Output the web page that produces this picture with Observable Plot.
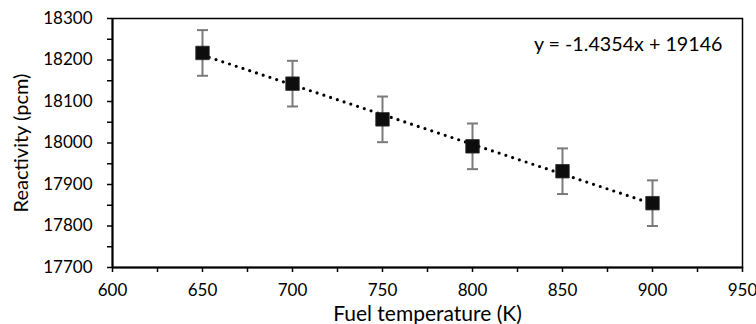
<!DOCTYPE html>
<html><head><meta charset="utf-8">
<script src="https://cdn.jsdelivr.net/npm/d3@7"></script>
<script src="https://cdn.jsdelivr.net/npm/@observablehq/plot@0.6"></script>
<style>
html,body{margin:0;padding:0;background:#fff;}
</style>
</head><body><div id="chart"></div>
<script>
const temperatures = [650, 700, 750, 800, 850, 900];
const reactivity = [18217, 18143, 18057, 17992, 17932, 17855];
const uncertainty = [55, 55, 55, 55, 55, 55];
const xMajorTicks = [600, 650, 700, 750, 800, 850, 900, 950];
const xMinorTicks = [625, 675, 725, 775, 825, 875, 925];
const yMajorTicks = [17700, 17800, 17900, 18000, 18100, 18200, 18300];
const yMinorTicks = [17750, 17850, 17950, 18050, 18150, 18250];
const xTitle = "Fuel temperature (K)";
const yTitle = "Reactivity (pcm)";
const equationLabel = "y = -1.4354x + 19146";

const data = temperatures.map((t, i) => ({
  t, r: reactivity[i], lo: reactivity[i] - uncertainty[i], hi: reactivity[i] + uncertainty[i]
}));

const capSymbol = {
  draw(ctx, size) {
    const w = Math.sqrt(size / Math.PI);
    ctx.moveTo(-w, 0);
    ctx.lineTo(w, 0);
  }
};

const font = "Lato, 'Open Sans', sans-serif";

const chart = Plot.plot({
  width: 756,
  height: 324,
  marginLeft: 112,
  marginRight: 14,
  marginTop: 18,
  marginBottom: 57,
  style: {fontFamily: font, color: "#000", background: "#fff"},
  x: {domain: [600, 950]},
  y: {domain: [17700, 18300]},
  marks: [
    Plot.frame({stroke: "#000", strokeWidth: 1.5}),
    Plot.axisX(xMajorTicks, {tickSize: 5, tickPadding: 11, fontSize: 17, label: null, strokeWidth: 1.5, tickFormat: d3.format("d")}),
    Plot.axisX(xMinorTicks, {tickSize: 5, tickFormat: () => "", label: null, strokeWidth: 1.5}),
    Plot.axisY(yMajorTicks, {tickSize: 5, tickPadding: 15, fontSize: 17, label: null, strokeWidth: 1.5, tickFormat: d3.format("d")}),
    Plot.axisY(yMinorTicks, {tickSize: 5, tickFormat: () => "", label: null, strokeWidth: 1.5}),
    Plot.ruleX([600], {stroke: "#000", strokeWidth: 2}),
    Plot.ruleY([17700], {stroke: "#000", strokeWidth: 2}),
    Plot.text([xTitle], {frameAnchor: "bottom", dy: 53, textAnchor: "middle", lineAnchor: "bottom", fontSize: 21, fill: "#000"}),
    Plot.text([yTitle], {frameAnchor: "left", dx: -91, rotate: -90, textAnchor: "middle", lineAnchor: "middle", fontSize: 20, fill: "#000"}),
    Plot.linearRegressionY(data, {x: "t", y: "r", ci: 0, stroke: "#000", strokeWidth: 3.2, strokeDasharray: "0 7.1", strokeLinecap: "round"}),
    Plot.ruleX(data, {x: "t", y1: "lo", y2: "hi", stroke: "#7a7a7a", strokeWidth: 2}),
    Plot.dot(data, {x: "t", y: "lo", symbol: capSymbol, r: 5.5, stroke: "#7a7a7a", strokeWidth: 2, fill: "none"}),
    Plot.dot(data, {x: "t", y: "hi", symbol: capSymbol, r: 5.5, stroke: "#7a7a7a", strokeWidth: 2, fill: "none"}),
    Plot.dot(data, {x: "t", y: "r", symbol: "square", r: 7.6, fill: "#0d0d0d", stroke: "#2a2a2a", strokeWidth: 0.8}),
    Plot.text([equationLabel], {frameAnchor: "top-right", dx: -20, dy: 26, textAnchor: "end", lineAnchor: "middle", fontSize: 19.7, fill: "#000"})
  ]
});
document.getElementById("chart").appendChild(chart);
</script>
</body></html>
